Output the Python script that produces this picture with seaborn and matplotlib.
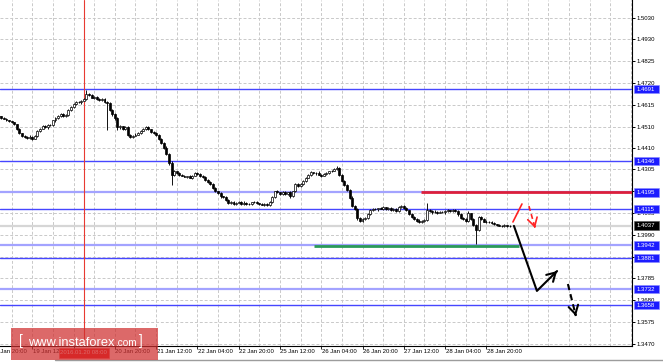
import numpy as np
import pandas as pd
import matplotlib
matplotlib.use("Agg")
import matplotlib.pyplot as plt
import matplotlib.transforms as mtrans
from matplotlib.patches import Rectangle
from matplotlib.lines import Line2D
from matplotlib import font_manager as fm
import seaborn as sns

# ---------------- data ----------------
first_bar = 3            # bar index counted from 18 Jan 20:00 (H1 bars)
first_open = 1.4562
closes = [
    1.4560, 1.4552, 1.4548, 1.4540, 1.4536, 1.4530, 1.4522, 1.4500, 1.4478, 1.4466,
    1.4460, 1.4456, 1.4462, 1.4452, 1.4466, 1.4488, 1.4500, 1.4512, 1.4506, 1.4520,
    1.4518, 1.4540, 1.4552, 1.4562, 1.4572, 1.4560, 1.4566, 1.4590, 1.4604, 1.4618,
    1.4630, 1.4626, 1.4634, 1.4640, 1.4666, 1.4660, 1.4648, 1.4652, 1.4640, 1.4636,
    1.4644, 1.4630, 1.4624, 1.4592, 1.4570, 1.4550, 1.4506, 1.4512, 1.4500, 1.4508,
    1.4472, 1.4460, 1.4466, 1.4472, 1.4480, 1.4490, 1.4498, 1.4510, 1.4498, 1.4486,
    1.4480, 1.4470, 1.4452, 1.4432, 1.4410, 1.4380, 1.4336, 1.4280, 1.4296, 1.4288,
    1.4280, 1.4276, 1.4270, 1.4272, 1.4266, 1.4276, 1.4290, 1.4284, 1.4276, 1.4268,
    1.4256, 1.4244, 1.4236, 1.4218, 1.4200, 1.4192, 1.4176, 1.4172, 1.4160, 1.4146,
    1.4150, 1.4140, 1.4146, 1.4150, 1.4140, 1.4146, 1.4142, 1.4138, 1.4148, 1.4150,
    1.4144, 1.4140, 1.4136, 1.4142, 1.4134, 1.4150, 1.4172, 1.4200, 1.4196, 1.4190,
    1.4196, 1.4188, 1.4196, 1.4180, 1.4200, 1.4236, 1.4226, 1.4236, 1.4248, 1.4266,
    1.4280, 1.4292, 1.4286, 1.4290, 1.4280, 1.4276, 1.4284, 1.4288, 1.4296, 1.4300,
    1.4306, 1.4312, 1.4280, 1.4250, 1.4232, 1.4206, 1.4170, 1.4130, 1.4118, 1.4074,
    1.4060, 1.4066, 1.4072, 1.4090, 1.4112, 1.4116, 1.4114, 1.4120, 1.4118, 1.4124,
    1.4116, 1.4122, 1.4110, 1.4116, 1.4108, 1.4126, 1.4128, 1.4120, 1.4110, 1.4094,
    1.4080, 1.4070, 1.4060, 1.4054, 1.4058, 1.4064, 1.4110, 1.4106, 1.4100, 1.4104,
    1.4098, 1.4102, 1.4100, 1.4106, 1.4110, 1.4108, 1.4112, 1.4106, 1.4090, 1.4074,
    1.4066, 1.4060, 1.4096, 1.4070, 1.4040, 1.4016, 1.4078, 1.4070, 1.4056, 1.4052,
    1.4054, 1.4048, 1.4042, 1.4040, 1.4036, 1.4034, 1.4038, 1.4034, 1.4037,
]
# upper / lower shadow length in pips
high_pips = [
    3, 2, 4, 3, 2, 3, 4, 2, 5, 3,
    2, 4, 6, 3, 4, 5, 3, 6, 4, 3,
    5, 4, 3, 6, 2, 4, 5, 3, 4, 6,
    4, 5, 3, 6, 19, 4, 5, 3, 4, 6,
    3, 4, 5, 4, 3, 6, 4, 5, 3, 4,
    3, 5, 4, 6, 3, 4, 5, 3, 4, 2,
    4, 3, 5, 2, 4, 6, 3, 8, 5, 4,
    3, 5, 4, 3, 6, 4, 3, 5, 4, 3,
    4, 3, 5, 4, 3, 4, 5, 3, 4, 6,
    3, 4, 5, 3, 4, 6, 3, 4, 3, 5,
    4, 3, 5, 4, 3, 6, 8, 4, 5, 3,
    4, 5, 3, 6, 4, 3, 5, 4, 6, 3,
    4, 5, 3, 4, 6, 3, 4, 5, 4, 3,
    6, 8, 4, 3, 5, 4, 6, 8, 5, 4,
    5, 6, 4, 8, 5, 4, 6, 3, 5, 4,
    3, 5, 4, 6, 4, 3, 5, 6, 4, 3,
    5, 4, 3, 6, 4, 5, 34, 4, 3, 5,
    4, 3, 6, 4, 5, 3, 4, 6, 3, 5,
    4, 5, 10, 3, 4, 5, 6, 4, 3, 5,
    4, 3, 5, 3, 4, 3, 5, 3, 4,
]
low_pips = [
    3, 4, 2, 5, 3, 4, 6, 8, 5, 4,
    5, 3, 4, 6, 3, 4, 5, 3, 4, 5,
    3, 4, 6, 3, 5, 4, 3, 5, 4, 3,
    5, 4, 6, 3, 4, 5, 3, 6, 4, 5,
    4, 6, 130, 5, 8, 6, 10, 5, 4, 6,
    6, 4, 5, 3, 4, 5, 3, 4, 6, 5,
    4, 5, 6, 4, 5, 8, 10, 50, 6, 4,
    5, 4, 3, 6, 4, 5, 3, 4, 6, 5,
    4, 5, 6, 4, 5, 4, 6, 5, 4, 5,
    6, 4, 5, 3, 6, 4, 5, 3, 4, 5,
    4, 6, 3, 5, 4, 6, 3, 5, 4, 8,
    5, 4, 6, 10, 5, 4, 3, 6, 5, 4,
    3, 5, 4, 6, 3, 5, 4, 3, 5, 4,
    3, 4, 6, 5, 4, 6, 8, 5, 6, 10,
    8, 6, 5, 4, 3, 5, 4, 6, 3, 5,
    4, 6, 3, 5, 4, 6, 3, 5, 4, 6,
    5, 8, 6, 5, 4, 3, 5, 4, 6, 4,
    5, 3, 4, 6, 3, 5, 4, 3, 6, 5,
    4, 6, 5, 8, 6, 69, 4, 5, 4, 3,
    5, 3, 4, 6, 3, 4, 3, 5, 3,
]

x_label_bars = [0, 16, 32, 48, 64, 80, 96, 112, 128, 144, 160, 176, 192]
x_labels = ["18 Jan 20:00", "19 Jan 12:00", "20 Jan 04:00", "20 Jan 20:00",
            "21 Jan 12:00", "22 Jan 04:00", "22 Jan 20:00", "25 Jan 12:00",
            "26 Jan 04:00", "26 Jan 20:00", "27 Jan 12:00", "28 Jan 04:00",
            "28 Jan 20:00"]
y_ticks = [1.5030, 1.4930, 1.4825, 1.4720, 1.4615, 1.4510, 1.4410, 1.4305,
           1.4200, 1.4095, 1.3990, 1.3885, 1.3785, 1.3680, 1.3575, 1.3470]

levels_thin = [1.4691, 1.4346, 1.4115, 1.3881, 1.3658]
levels_wide = [1.4195, 1.3942, 1.3732]
current_price = 1.4037

resistance_price = 1.4195
resistance_from_bar = 166.6
support_price = 1.3937
support_bars = [125.2, 204.7]

cursor_bar = 36
cursor_label = "2016.01.20 08:00"

black_path_bar = [202.7, 211.6, 219.4]
black_path_price = [1.4035, 1.3724, 1.3819]
black_dash_bar = [223.6, 226.7]
black_dash_price = [1.3757, 1.3604]
red_path_bar = [202.3, 205.8]
red_path_price = [1.4054, 1.4140]
red_dash_bar = [208.5, 210.9]
red_dash_price = [1.4130, 1.4025]

watermark_main = "www.instaforex"
watermark_tail = ".com"

# ---------------- frame ----------------
bars = np.arange(first_bar, first_bar + len(closes))
close = np.array(closes)
opn = np.concatenate([[first_open], close[:-1]])
high = np.maximum(opn, close) + np.array(high_pips) * 1e-4
low = np.minimum(opn, close) - np.array(low_pips) * 1e-4
df = pd.DataFrame(dict(bar=bars, open=opn, close=close, high=high, low=low))

sns.set_style("white")
names = {f.name for f in fm.fontManager.ttflist}
if "Liberation Sans Narrow" in names:
    tick_font, tfs = "Liberation Sans Narrow", 5.0
else:
    tick_font, tfs = "Liberation Sans", 4.3
plt.rcParams["font.family"] = [tick_font, "DejaVu Sans"]

W, H = 663, 362
AX_W, AX_H = 632, 346
fig = plt.figure(figsize=(W / 100, H / 100), dpi=100)
fig.patch.set_facecolor("white")
ax = fig.add_axes([0, (H - AX_H) / H, AX_W / W, AX_H / H])
ax.set_facecolor("white")

ymin, ymax = 1.34604, 1.51161
xmin, xmax = 3.49, 248.45
ax.set_xlim(xmin, xmax)
ax.set_ylim(ymin, ymax)
px_y = (ymax - ymin) / AX_H
px_x = (xmax - xmin) / AX_W

# grid
ax.set_xticks([b for b in x_label_bars if xmin <= b <= xmax])
ax.set_xticks(np.arange(8, 249, 8), minor=True)
ax.set_xticklabels([])
ax.set_yticks(y_ticks)
ax.set_yticklabels([f"{v:.4f}" for v in y_ticks], fontsize=tfs, color="black")
ax.yaxis.tick_right()
ax.tick_params(axis="y", which="major", length=2, width=0.7, pad=1.2, colors="black", right=True, left=False)
ax.tick_params(axis="x", which="major", length=2.2, width=0.7, direction="out", bottom=True)
ax.tick_params(axis="x", which="minor", length=0)
ax.grid(True, which="both", axis="x", color="#c9c9c9", linestyle=(0, (3, 2)), lw=0.7)
ax.grid(True, which="major", axis="y", color="#c9c9c9", linestyle=(0, (3, 2)), lw=0.7)
ax.set_axisbelow(True)
for s in ["left", "top"]:
    ax.spines[s].set_visible(False)
for s in ["right", "bottom"]:
    ax.spines[s].set_color("black")
    ax.spines[s].set_linewidth(0.8)

# level lines
ax.axhline(current_price, color="#d6d6d6", lw=1.6, zorder=1.5)
for lv in levels_thin:
    ax.axhline(lv, color="#4646ff", lw=1.0, zorder=2)
for lv in levels_wide:
    ax.axhline(lv, color="#a3a3ff", lw=1.6, zorder=2)
ax.axvline(cursor_bar, color="#e83a32", lw=0.8, zorder=2.2)

# candles
ax.vlines(df["bar"], df["low"], df["high"], color="black", lw=0.65, zorder=3)
up = df["close"] >= df["open"]
body = (df["close"] - df["open"]).abs().clip(lower=0.00007)
ax.bar(df["bar"][up], body[up], bottom=df["open"][up], width=0.75,
       color="white", edgecolor="black", lw=0.5, zorder=4)
ax.bar(df["bar"][~up], body[~up], bottom=df["close"][~up], width=0.75,
       color="black", edgecolor="black", lw=0.5, zorder=4)

# resistance / support
ax.hlines(resistance_price, resistance_from_bar, xmax, color="#dc1f3c", lw=2.0, zorder=5)
ax.hlines(support_price, support_bars[0], support_bars[1], color="#2a9a58", lw=2.0, zorder=5)

# forecast paths
def head(xs, ys, color, lw):
    dx, dy = xs[-1] - xs[-2], ys[-1] - ys[-2]
    ax.annotate("", xy=(xs[-1], ys[-1]), xytext=(xs[-1] - 0.05 * dx, ys[-1] - 0.05 * dy),
                arrowprops=dict(arrowstyle="->,head_length=0.6,head_width=0.35",
                                color=color, lw=lw, shrinkA=0, shrinkB=0,
                                mutation_scale=10), zorder=6)

sns.lineplot(x=black_path_bar, y=black_path_price, sort=False, estimator=None,
             color="black", lw=1.5, ax=ax, zorder=6)
head(black_path_bar, black_path_price, "black", 1.5)
sns.lineplot(x=black_dash_bar, y=black_dash_price, sort=False, estimator=None,
             color="black", lw=1.5, ax=ax, zorder=6, linestyle=(0, (3, 2)))
head(black_dash_bar, black_dash_price, "black", 1.5)
sns.lineplot(x=red_path_bar, y=red_path_price, sort=False, estimator=None,
             color="#ff2222", lw=1.2, ax=ax, zorder=6)
sns.lineplot(x=red_dash_bar, y=red_dash_price, sort=False, estimator=None,
             color="#ff2222", lw=1.2, ax=ax, zorder=6, linestyle=(0, (3, 2)))
head(red_dash_bar, red_dash_price, "#ff2222", 1.2)

# x labels (left aligned at tick)
bx = mtrans.blended_transform_factory(ax.transData, ax.transAxes)
for b, lab in zip(x_label_bars, x_labels):
    ax.text(b + 0.2, -3.0 / AX_H, lab, transform=bx, ha="left", va="top",
            fontsize=tfs, color="black", clip_on=False, zorder=3)

# price label boxes on the right axis
by = mtrans.blended_transform_factory(ax.transAxes, ax.transData)
def price_box(v, fc, ec):
    ax.add_patch(Rectangle((634 / AX_W, v - 4.2 * px_y), 25 / AX_W, 8.4 * px_y,
                           transform=by, fc=fc, ec=ec, lw=0.4, clip_on=False, zorder=7))
    ax.text(636.5 / AX_W, v - 0.3 * px_y, f"{v:.4f}", transform=by, ha="left", va="center",
            fontsize=tfs, color="white", clip_on=False, zorder=8)

for lv in levels_thin + levels_wide:
    price_box(lv, "#1c1cff", "#8a8aff")
price_box(current_price, "black", "#555555")

# cursor time label
ax.add_patch(Rectangle((cursor_bar - 25 * px_x, -11.5 / AX_H), 50 * px_x, 10 / AX_H,
                       transform=bx, fc="#ee1c1c", ec="#ff6060", lw=0.4,
                       clip_on=False, zorder=7))
ax.text(cursor_bar, -6.3 / AX_H, cursor_label, transform=bx, ha="center", va="center",
        fontsize=tfs, color="white", clip_on=False, zorder=8)

# bottom window border
fig.add_artist(Line2D([55 / W, 1], [2 / H, 2 / H], color="#9c9c9c", lw=1.0))

# watermark
fig.add_artist(Rectangle((11 / W, 2 / H), 147 / W, 32 / H, transform=fig.transFigure,
                         fc="#cf2f2f", ec="none", alpha=0.72, zorder=10))
wm_font = ["Liberation Sans", "DejaVu Sans"]
base_y = (H - 345.5) / H
fig.text(19 / W, base_y + 0.5 / H, "[", ha="left", va="baseline", fontsize=10,
         color="white", family=wm_font, zorder=11)
t_main = fig.text(28 / W, base_y, watermark_main, ha="left", va="baseline", fontsize=9.3,
                  color="white", family=wm_font, zorder=11)
fig.canvas.draw()
ext = t_main.get_window_extent()
t_tail = fig.text((ext.x1 + 0.3) / W, base_y, watermark_tail, ha="left", va="baseline",
                  fontsize=7.2, color="white", family=wm_font, zorder=11)
fig.canvas.draw()
ext2 = t_tail.get_window_extent()
fig.text((ext2.x1 + 3) / W, base_y + 0.5 / H, "]", ha="left", va="baseline", fontsize=10,
         color="white", family=wm_font, zorder=11)

fig.savefig("out.png", dpi=100)
